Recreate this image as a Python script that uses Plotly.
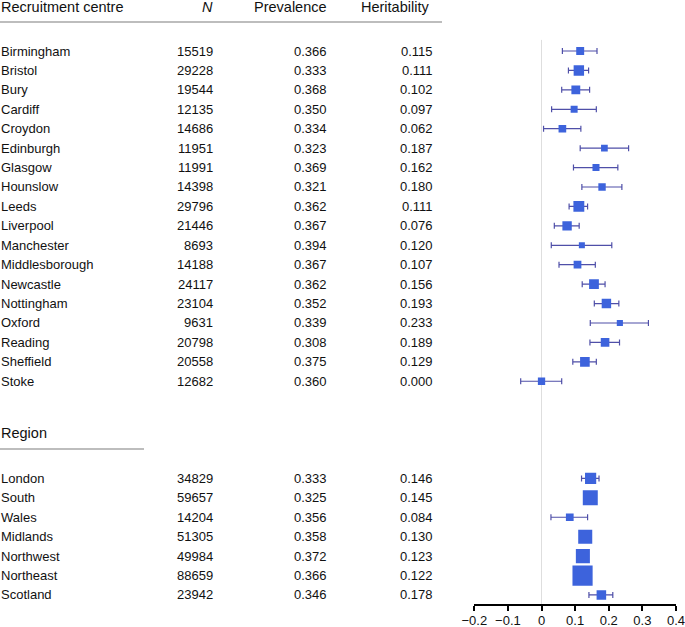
import plotly.graph_objects as go
import numpy as np

# ---- data ----
centres = ["Birmingham", "Bristol", "Bury", "Cardiff", "Croydon", "Edinburgh", "Glasgow",
           "Hounslow", "Leeds", "Liverpool", "Manchester", "Middlesborough", "Newcastle",
           "Nottingham", "Oxford", "Reading", "Sheffield", "Stoke"]
centre_n = [15519, 29228, 19544, 12135, 14686, 11951, 11991, 14398, 29796, 21446, 8693,
            14188, 24117, 23104, 9631, 20798, 20558, 12682]
centre_prev = ["0.366", "0.333", "0.368", "0.350", "0.334", "0.323", "0.369", "0.321", "0.362",
               "0.367", "0.394", "0.367", "0.362", "0.352", "0.339", "0.308", "0.375", "0.360"]
centre_h2 = [0.115, 0.111, 0.102, 0.097, 0.062, 0.187, 0.162, 0.180, 0.111, 0.076, 0.120,
             0.107, 0.156, 0.193, 0.233, 0.189, 0.129, 0.000]
centre_lo = [0.062, 0.080, 0.060, 0.030, 0.006, 0.115, 0.095, 0.120, 0.082, 0.038, 0.029,
             0.052, 0.121, 0.157, 0.145, 0.144, 0.093, -0.062]
centre_hi = [0.165, 0.140, 0.143, 0.163, 0.117, 0.259, 0.227, 0.239, 0.137, 0.112, 0.209,
             0.160, 0.189, 0.230, 0.318, 0.232, 0.163, 0.060]

regions = ["London", "South", "Wales", "Midlands", "Northwest", "Northeast", "Scotland"]
region_n = [34829, 59657, 14204, 51305, 49984, 88659, 23942]
region_prev = ["0.333", "0.325", "0.356", "0.358", "0.372", "0.366", "0.346"]
region_h2 = [0.146, 0.145, 0.084, 0.130, 0.123, 0.122, 0.178]
region_lo = [0.119, 0.1305, 0.028, 0.1135, 0.1065, 0.114, 0.141]
region_hi = [0.171, 0.1595, 0.137, 0.1465, 0.1395, 0.130, 0.212]

x_ticks = [-0.2, -0.1, 0, 0.1, 0.2, 0.3, 0.4]

# ---- layout helpers ----
W, H = 685, 627
FONT = "Liberation Sans, Arial, Helvetica, sans-serif"
centre_rows = list(range(len(centres)))
region_rows = [22 + i for i in range(len(regions))]
header_row = -2.26
region_header_row = 19.66

names = centres + regions
rows = centre_rows + region_rows
est = centre_h2 + region_h2
lo = centre_lo + region_lo
hi = centre_hi + region_hi
ns = centre_n + region_n
prevs = centre_prev + region_prev

est_a = np.array(est)
lo_a = np.array(lo)
hi_a = np.array(hi)
sizes = 2.55 / np.sqrt(hi_a - lo_a)

fig = go.Figure()
fig.add_trace(go.Scatter(
    x=est, y=rows, mode="markers",
    marker=dict(symbol="square", size=sizes, color="#3d63dc", opacity=1, line=dict(width=0)),
    error_x=dict(type="data", symmetric=False, array=list(hi_a - est_a),
                 arrayminus=list(est_a - lo_a), color="#4f4fa8", thickness=1.2, width=3),
    showlegend=False, hoverinfo="skip",
))

ann = []
def txt(x, y, s, anchor, size=13):
    ann.append(dict(x=x / W, y=y, xref="paper", yref="y", text=s, showarrow=False,
                    xanchor=anchor, yanchor="middle", borderpad=0,
                    font=dict(size=size, color="#111", family=FONT)))

# headers
txt(0, header_row, "Recruitment centre", "left", 14.5)
txt(214, header_row, "<i>N</i>", "right", 14.5)
txt(328, header_row, "Prevalence", "right", 14.5)
txt(430, header_row, "Heritability", "right", 14.5)
txt(0, region_header_row, "Region", "left", 14.5)

for nm, r, n, p, h in zip(names, rows, ns, prevs, est):
    txt(0, r, nm, "left")
    txt(214, r, str(n), "right")
    txt(328, r, p, "right")
    txt(434, r, f"{h:.3f}", "right")

shapes = [
    dict(type="line", xref="paper", yref="y", x0=0, x1=442 / W, y0=-1.49, y1=-1.49,
         line=dict(color="#bdbdbd", width=2)),
    dict(type="line", xref="paper", yref="y", x0=0, x1=144 / W, y0=20.48, y1=20.48,
         line=dict(color="#bdbdbd", width=2)),
    dict(type="line", xref="x", yref="y", x0=0, x1=0, y0=-0.57, y1=28.48,
         line=dict(color="#dedede", width=1), layer="below"),
]

fig.update_layout(
    template="none",
    width=W, height=H, margin=dict(l=0, r=0, t=0, b=0, pad=0, autoexpand=False), autosize=False,
    paper_bgcolor="white", plot_bgcolor="white",
    font=dict(family=FONT, size=13, color="#111"),
    annotations=ann, shapes=shapes,
    xaxis=dict(domain=[474.3 / W, 676 / W], range=[-0.2, 0.4], tickvals=x_ticks, automargin=False,
               ticktext=[("\u2212" if v < 0 else "") + (f"{abs(v):g}") for v in x_ticks],
               showgrid=False, zeroline=False, showline=True, linecolor="black", linewidth=1.5,
               ticks="outside", ticklen=5, tickwidth=1.5, tickcolor="black",
               ticklabeloverflow="allow", ticklabelstandoff=-2,
               tickfont=dict(size=13, color="#111", family=FONT)),
    yaxis=dict(domain=[(H - 604.3) / H, 1], range=[28.48, -2.625], autorange=False, automargin=False,
               showgrid=False, zeroline=False, showline=False, showticklabels=False, ticks=""),
)

fig.write_html("out.html", config={"responsive": False, "displayModeBar": False},
               post_script="document.body.style.margin='0';document.body.style.overflow='hidden';")
